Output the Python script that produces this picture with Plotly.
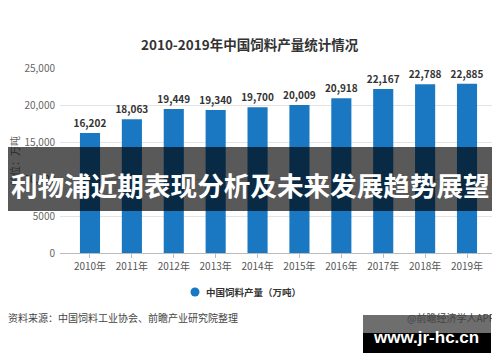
import plotly.graph_objects as go

categories = ["2010年", "2011年", "2012年", "2013年", "2014年", "2015年", "2016年", "2017年", "2018年", "2019年"]
values = [16202, 18063, 19449, 19340, 19700, 20009, 20918, 22167, 22788, 22885]
y_tickvals = [0, 5000, 10000, 15000, 20000, 25000]
y_ticktext = ["0", "5000", "10,000", "15,000", "20,000", "25,000"]

# The page body has an 8px default margin; work in reference pixels and offset.
OFF = 8
W, H = 500 - OFF, 362 - OFF
L, R, T, B = 60, 497, 68, 253  # plot area in reference pixels
FONT = "Noto Sans CJK SC, Microsoft YaHei, sans-serif"

def px(x):
    return (x - L) / (R - L)

def py(y):
    return (B - y) / (B - T)

fig = go.Figure()
fig.add_trace(go.Bar(
    x=categories, y=values,
    marker=dict(color="#1a78c2", line=dict(width=0)),
    width=0.48,
    text=[f"<b>{v:,}</b>" for v in values],
    textposition="outside",
    constraintext="none",
    textfont=dict(family=FONT, size=10, color="#333333"),
    cliponaxis=False,
    hoverinfo="skip",
    showlegend=False,
))

shapes = [
    dict(type="circle", xref="paper", yref="paper",
         x0=px(190.5), x1=px(199.5), y0=py(296.5), y1=py(287.5),
         fillcolor="#1a78c2", line=dict(width=0)),
    dict(type="rect", xref="paper", yref="paper",
         x0=px(7), x1=px(494), y0=py(211), y1=py(147),
         fillcolor="rgba(0,0,0,0.65)", line=dict(width=0), layer="above"),
    dict(type="rect", xref="paper", yref="paper",
         x0=px(363), x1=px(491), y0=py(353), y1=py(333),
         fillcolor="#000000", line=dict(width=0), layer="above"),
    dict(type="rect", xref="paper", yref="paper",
         x0=px(363), x1=px(491), y0=py(333), y1=py(315),
         fillcolor="rgba(0,0,0,0.57)", line=dict(width=0), layer="above"),
]

annotations = [
    dict(text="<b>2010-2019年中国饲料产量统计情况</b>", xref="paper", yref="paper",
         x=px(250), y=py(44), showarrow=False, xanchor="center", yanchor="middle",
         font=dict(family=FONT, size=13.5, color="#333333")),
    dict(text="吨", xref="paper", yref="paper", x=px(14), y=py(141),
         showarrow=False, textangle=-90, xanchor="center", yanchor="middle",
         font=dict(family=FONT, size=10, color="#666666")),
    dict(text="单位：万", xref="paper", yref="paper", x=px(14), y=py(166),
         showarrow=False, textangle=-90, xanchor="center", yanchor="middle",
         font=dict(family=FONT, size=10, color="#2a2a2a")),
    dict(text="<b>中国饲料产量（万吨）</b>", xref="paper", yref="paper", x=px(204), y=py(292),
         showarrow=False, xanchor="left", yanchor="middle",
         font=dict(family=FONT, size=9.5, color="#333333")),
    dict(text="资料来源：中国饲料工业协会、前瞻产业研究院整理", xref="paper", yref="paper",
         x=px(6), y=py(317), showarrow=False, xanchor="left", yanchor="middle",
         font=dict(family=FONT, size=10, color="#444444")),
    dict(text="@前瞻经济学人APP", xref="paper", yref="paper",
         x=px(497), y=py(317), showarrow=False, xanchor="right", yanchor="middle",
         font=dict(family=FONT, size=10, color="#444444")),
    dict(text="<b>利物浦近期表现分析及未来发展趋势展望</b>", xref="paper", yref="paper",
         x=px(250.5), y=py(184), showarrow=False, xanchor="center", yanchor="middle",
         font=dict(family=FONT, size=26.6, color="#ffffff")),
    dict(text="<b>www.jr-hc.cn</b>", xref="paper", yref="paper",
         x=px(426), y=py(337), showarrow=False, xanchor="center", yanchor="middle",
         font=dict(family="Liberation Sans, Arial, sans-serif", size=17, color="#ffffff")),
]

fig.update_layout(
    width=W, height=H,
    margin=dict(l=L - OFF, r=500 - R, t=T - OFF, b=362 - B, pad=0),
    paper_bgcolor="#ffffff", plot_bgcolor="#ffffff",
    shapes=shapes,
    annotations=annotations,
    xaxis=dict(
        type="category", range=[-0.716, 9.716],
        showline=True, linecolor="#bbbbbb", linewidth=1,
        ticks="outside", ticklen=4, tickcolor="#bbbbbb",
        tickfont=dict(family=FONT, size=10, color="#555555"),
        showgrid=False, fixedrange=True,
    ),
    yaxis=dict(
        range=[0, 25000], tickvals=y_tickvals, ticktext=y_ticktext,
        showgrid=True, gridcolor="#e3e3e3", gridwidth=1,
        zeroline=False, showline=False, ticks="", ticklabelstandoff=4,
        tickfont=dict(family=FONT, size=10, color="#666666"),
        fixedrange=True,
    ),
)

fig.write_html("out.html")
